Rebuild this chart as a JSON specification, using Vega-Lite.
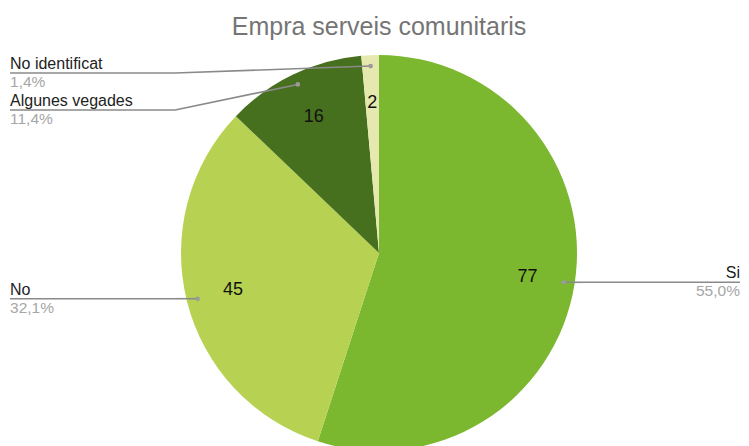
{
  "$schema": "https://vega.github.io/schema/vega-lite/v6.json",
  "width": 740,
  "height": 386,
  "autosize": {"type": "none"},
  "padding": {"left": 9, "right": 0, "top": 60, "bottom": 0},
  "background": "white",
  "config": {"view": {"stroke": null}, "font": "Liberation Sans"},
  "title": {
    "text": "Empra serveis comunitaris",
    "font": "Liberation Sans",
    "fontSize": 25,
    "fontWeight": "normal",
    "color": "#757575",
    "anchor": "middle",
    "offset": 15
  },
  "data": {
    "values": [
      {"categoria": "Si", "valor": 77},
      {"categoria": "No", "valor": 45},
      {"categoria": "Algunes vegades", "valor": 16},
      {"categoria": "No identificat", "valor": 2}
    ]
  },
  "transform": [
    {"calculate": "indexof(['Si','No','Algunes vegades','No identificat'], datum.categoria)", "as": "ordre"},
    {"joinaggregate": [{"op": "sum", "field": "valor", "as": "total"}]},
    {"window": [{"op": "sum", "field": "valor", "as": "cum"}], "sort": [{"field": "ordre", "order": "ascending"}], "frame": [null, 0]},
    {"calculate": "(datum.cum - datum.valor / 2) / datum.total * 2 * PI", "as": "mid"},
    {"calculate": "replace(format(datum.valor / datum.total * 100, '.1f'), '.', ',') + '%'", "as": "pct"},
    {"calculate": "datum.mid < PI ? 'dreta' : 'esquerra'", "as": "costat"},
    {"calculate": "sin(datum.mid) * 0.945", "as": "ax"},
    {"calculate": "cos(datum.mid) * 0.945", "as": "ay"},
    {"calculate": "sin(datum.mid) * 0.76", "as": "tx"},
    {"calculate": "cos(datum.mid) * 0.76", "as": "ty"},
    {"calculate": "min(datum.ay, 0.909)", "as": "ly0"},
    {"window": [{"op": "lag", "field": "ly0", "as": "prevly"}], "groupby": ["costat"], "sort": [{"field": "ay", "order": "descending"}]},
    {"calculate": "datum.prevly == null ? datum.ly0 : min(datum.ly0, datum.prevly - 0.187)", "as": "ly"},
    {"calculate": "datum.costat == 'dreta' ? 1.823 : -1.8636", "as": "lx"},
    {"calculate": "datum.costat == 'dreta' ? 1.03 : -1.03", "as": "ex"}
  ],
  "layer": [
    {
      "mark": {"type": "arc", "outerRadius": 198},
      "encoding": {
        "theta": {"field": "valor", "type": "quantitative", "stack": true},
        "order": {"field": "ordre", "type": "quantitative", "sort": "ascending"},
        "color": {
          "field": "categoria",
          "type": "nominal",
          "scale": {
            "domain": ["Si", "No", "Algunes vegades", "No identificat"],
            "range": ["#7cb82f", "#b7d252", "#466f1e", "#e6e9ad"]
          },
          "legend": null
        }
      }
    },
    {
      "mark": {"type": "text", "fontSize": 18, "color": "#111111", "align": "center", "baseline": "middle"},
      "encoding": {
        "x": {"field": "tx", "type": "quantitative", "scale": {"domain": [-1.8687, 1.8687], "nice": false, "zero": false}, "axis": null},
        "y": {"field": "ty", "type": "quantitative", "scale": {"domain": [-0.9747, 0.9747], "nice": false, "zero": false}, "axis": null},
        "text": {"field": "valor", "type": "quantitative"}
      }
    },
    {
      "mark": {"type": "rule", "color": "#8a8a8a", "strokeWidth": 1.6},
      "encoding": {
        "x": {"field": "lx", "type": "quantitative", "scale": {"domain": [-1.8687, 1.8687], "nice": false, "zero": false}, "axis": null},
        "y": {"field": "ly", "type": "quantitative", "scale": {"domain": [-0.9747, 0.9747], "nice": false, "zero": false}, "axis": null},
        "x2": {"field": "ex"},
        "y2": {"field": "ly"}
      }
    },
    {
      "mark": {"type": "rule", "color": "#8a8a8a", "strokeWidth": 1.6},
      "encoding": {
        "x": {"field": "ex", "type": "quantitative", "scale": {"domain": [-1.8687, 1.8687], "nice": false, "zero": false}, "axis": null},
        "y": {"field": "ly", "type": "quantitative", "scale": {"domain": [-0.9747, 0.9747], "nice": false, "zero": false}, "axis": null},
        "x2": {"field": "ax"},
        "y2": {"field": "ay"}
      }
    },
    {
      "mark": {"type": "point", "filled": true, "color": "#9a9a9a", "size": 22, "opacity": 1},
      "encoding": {
        "x": {"field": "ax", "type": "quantitative", "scale": {"domain": [-1.8687, 1.8687], "nice": false, "zero": false}, "axis": null},
        "y": {"field": "ay", "type": "quantitative", "scale": {"domain": [-0.9747, 0.9747], "nice": false, "zero": false}, "axis": null}
      }
    },
    {
      "transform": [{"filter": "datum.costat == 'esquerra'"}],
      "mark": {"type": "text", "fontSize": 16, "color": "#222222", "align": "left", "baseline": "alphabetic", "dy": -4},
      "encoding": {
        "x": {"field": "lx", "type": "quantitative", "scale": {"domain": [-1.8687, 1.8687], "nice": false, "zero": false}, "axis": null},
        "y": {"field": "ly", "type": "quantitative", "scale": {"domain": [-0.9747, 0.9747], "nice": false, "zero": false}, "axis": null},
        "text": {"field": "categoria", "type": "nominal"}
      }
    },
    {
      "transform": [{"filter": "datum.costat == 'esquerra'"}],
      "mark": {"type": "text", "fontSize": 15.5, "color": "#a6a6a6", "align": "left", "baseline": "alphabetic", "dy": 14},
      "encoding": {
        "x": {"field": "lx", "type": "quantitative", "scale": {"domain": [-1.8687, 1.8687], "nice": false, "zero": false}, "axis": null},
        "y": {"field": "ly", "type": "quantitative", "scale": {"domain": [-0.9747, 0.9747], "nice": false, "zero": false}, "axis": null},
        "text": {"field": "pct", "type": "nominal"}
      }
    },
    {
      "transform": [{"filter": "datum.costat == 'dreta'"}],
      "mark": {"type": "text", "fontSize": 16, "color": "#222222", "align": "right", "baseline": "alphabetic", "dy": -4},
      "encoding": {
        "x": {"field": "lx", "type": "quantitative", "scale": {"domain": [-1.8687, 1.8687], "nice": false, "zero": false}, "axis": null},
        "y": {"field": "ly", "type": "quantitative", "scale": {"domain": [-0.9747, 0.9747], "nice": false, "zero": false}, "axis": null},
        "text": {"field": "categoria", "type": "nominal"}
      }
    },
    {
      "transform": [{"filter": "datum.costat == 'dreta'"}],
      "mark": {"type": "text", "fontSize": 15.5, "color": "#a6a6a6", "align": "right", "baseline": "alphabetic", "dy": 14},
      "encoding": {
        "x": {"field": "lx", "type": "quantitative", "scale": {"domain": [-1.8687, 1.8687], "nice": false, "zero": false}, "axis": null},
        "y": {"field": "ly", "type": "quantitative", "scale": {"domain": [-0.9747, 0.9747], "nice": false, "zero": false}, "axis": null},
        "text": {"field": "pct", "type": "nominal"}
      }
    }
  ]
}
